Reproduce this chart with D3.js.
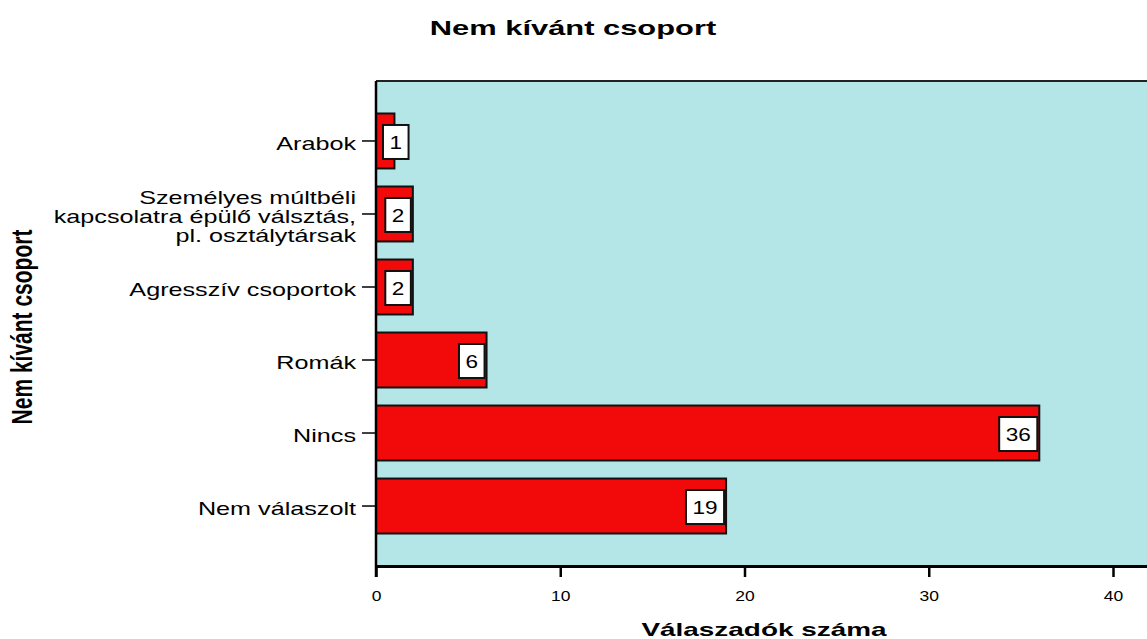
<!DOCTYPE html>
<html>
<head>
<meta charset="utf-8">
<script src="https://cdn.jsdelivr.net/npm/d3@7"></script>
<style>
  body { margin: 0; background: #fff; }
  svg text { font-family: "Liberation Sans", Arial, Helvetica, sans-serif; fill: #000; }
</style>
</head>
<body>
<div id="chart"></div>
<script>
// data, top to bottom
const categories = ["Arabok", "Személyes", "Agresszív csoportok", "Romák", "Nincs", "Nem válaszolt"];
const labelLines = [
  ["Arabok"],
  ["Személyes múltbéli", "kapcsolatra épülő válsztás,", "pl. osztálytársak"],
  ["Agresszív csoportok"],
  ["Romák"],
  ["Nincs"],
  ["Nem válaszolt"]
];
const counts = [1, 2, 2, 6, 36, 19];
const xTicks = [0, 10, 20, 30, 40];

const W = 1147, H = 639;
const plot = { left: 376, top: 81, bottom: 566 };
const stretch = 1.4; // the source picture is wider than tall, text looks stretched

const svg = d3.select("#chart").append("svg")
  .attr("width", W)
  .attr("height", H);

const x = d3.scaleLinear().domain([0, 42]).range([plot.left, plot.left + 42 * 18.425]);
const y = d3.scaleBand().domain(categories).range([plot.top, plot.bottom])
  .paddingInner(0.247).paddingOuter(0.445);

// plot background
svg.append("rect")
  .attr("x", plot.left).attr("y", plot.top)
  .attr("width", W - plot.left + 5).attr("height", plot.bottom - plot.top)
  .attr("fill", "#b4e6e8");

// top frame line
svg.append("line")
  .attr("x1", plot.left).attr("x2", W + 5)
  .attr("y1", plot.top).attr("y2", plot.top)
  .attr("stroke", "#222").attr("stroke-width", 2);

// bars
svg.append("g").selectAll("rect")
  .data(counts)
  .join("rect")
  .attr("x", x(0))
  .attr("y", (d, i) => y(categories[i]))
  .attr("width", d => x(d) - x(0))
  .attr("height", y.bandwidth())
  .attr("fill", "#f20a0a")
  .attr("stroke", "#111")
  .attr("stroke-width", 2);

// value boxes
const vals = svg.append("g");
counts.forEach((d, i) => {
  const cy = y(categories[i]) + y.bandwidth() / 2 + 1;
  const g = vals.append("g");
  const box = g.append("rect");
  const t = g.append("text")
    .attr("text-anchor", "middle")
    .style("font-size", "18.5px")
    .text(d);
  const tw = t.node().getComputedTextLength() * 1.22;
  const bw = tw + 13, bh = 34;
  const bx = Math.max(x(d) - 2 - bw, x(0) + 7);
  box.attr("x", bx).attr("y", cy - bh / 2)
    .attr("width", bw).attr("height", bh)
    .attr("fill", "#fff").attr("stroke", "#111").attr("stroke-width", 2);
  t.attr("transform", `translate(${bx + bw / 2},${cy + 7}) scale(1.22,1)`);
});

// x axis
const xAxis = svg.append("g")
  .attr("transform", `translate(0,${plot.bottom})`)
  .call(d3.axisBottom(x).tickValues(xTicks).tickSize(11).tickSizeOuter(0).tickPadding(13));
xAxis.select(".domain").attr("stroke", "#000").attr("stroke-width", 3);
xAxis.selectAll(".tick line").attr("stroke", "#000").attr("stroke-width", 2.5);
xAxis.selectAll(".tick text")
  .style("font-size", "14px")
  .attr("dy", 0)
  .attr("y", 35)
  .attr("transform", "scale(1.25,1)");

// y axis (ticks only, labels drawn below)
const yAxis = svg.append("g")
  .attr("transform", `translate(${plot.left},0)`)
  .call(d3.axisLeft(y).tickSize(14).tickSizeOuter(0).tickFormat(""));
yAxis.select(".domain").attr("stroke", "#000").attr("stroke-width", 2.5)
  .attr("d", `M0,${plot.top}V${plot.bottom + 11}`);
yAxis.selectAll(".tick line").attr("stroke", "#000").attr("stroke-width", 1.5);

// category labels
const labels = svg.append("g");
labelLines.forEach((lines, i) => {
  const cy = y(categories[i]) + y.bandwidth() / 2;
  const n = lines.length;
  lines.forEach((ln, j) => {
    const by = cy + 9 + (j - (n - 1) / 2) * 19;
    labels.append("text")
      .attr("text-anchor", "end")
      .attr("transform", `translate(356,${by}) scale(${stretch},1)`)
      .style("font-size", "18px")
      .text(ln);
  });
});

// titles
svg.append("text")
  .attr("text-anchor", "middle")
  .attr("transform", `translate(573,35) scale(1.47,1)`)
  .style("font-size", "21px")
  .style("font-weight", "bold")
  .text("Nem kívánt csoport");

svg.append("text")
  .attr("text-anchor", "middle")
  .attr("transform", `translate(764,636) scale(1.47,1)`)
  .style("font-size", "19px")
  .style("font-weight", "bold")
  .text("Válaszadók száma");

svg.append("text")
  .attr("text-anchor", "middle")
  .attr("transform", `translate(32,327) scale(${stretch},1) rotate(-90)`)
  .style("font-size", "21px")
  .style("font-weight", "bold")
  .text("Nem kívánt csoport");
</script>
</body>
</html>
